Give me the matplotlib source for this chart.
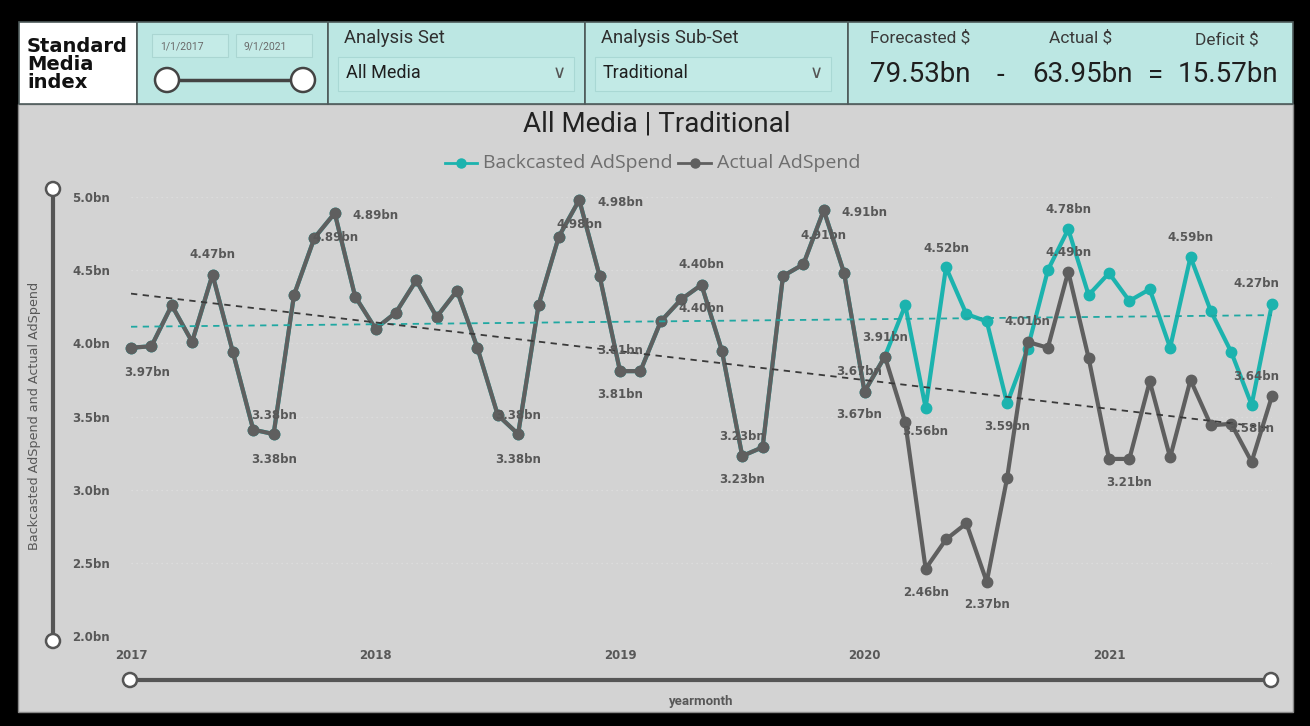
import numpy as np
import matplotlib
matplotlib.use("Agg")
from matplotlib import pyplot as plt
from matplotlib.patches import Rectangle, Circle

# monthly ad spend, Jan 2017 .. Sep 2021 (bn)
actual = [3.97, 3.98, 4.26, 4.01, 4.47, 3.94, 3.41, 3.38, 4.33, 4.72, 4.89, 4.32,
          4.10, 4.21, 4.43, 4.18, 4.36, 3.97, 3.51, 3.38, 4.26, 4.73, 4.98, 4.46,
          3.81, 3.81, 4.15, 4.30, 4.40, 3.95, 3.23, 3.29, 4.46, 4.54, 4.91, 4.48,
          3.67, 3.91, 3.46, 2.46, 2.66, 2.77, 2.37, 3.08, 4.01, 3.97, 4.49, 3.90,
          3.21, 3.21, 3.74, 3.22, 3.75, 3.44, 3.45, 3.19, 3.64]
backcasted = [3.97, 3.98, 4.26, 4.01, 4.47, 3.94, 3.41, 3.38, 4.33, 4.72, 4.89, 4.32,
              4.10, 4.21, 4.43, 4.18, 4.36, 3.97, 3.51, 3.38, 4.26, 4.73, 4.98, 4.46,
              3.81, 3.81, 4.15, 4.30, 4.40, 3.95, 3.23, 3.29, 4.46, 4.54, 4.91, 4.48,
              3.67, 3.91, 4.26, 3.56, 4.52, 4.20, 4.15, 3.59, 3.96, 4.50, 4.78, 4.33,
              4.48, 4.29, 4.37, 3.97, 4.59, 4.22, 3.94, 3.58, 4.27]
years = ["2017", "2018", "2019", "2020", "2021"]
yticks = [2.0, 2.5, 3.0, 3.5, 4.0, 4.5, 5.0]

# data labels: series, month index, offset in px (dx right, dy down)
labels_actual = [(0, 16, 25), (4, 0, -20), (7, 0, -19), (7, 0, 25), (10, 41, 2), (10, 1, 24),
                 (19, 0, -19), (19, 0, 25), (22, 41, 3), (22, 0, 25), (24, 0, -21), (24, 0, 23),
                 (28, 0, -20), (28, 0, 24), (30, 0, -20), (30, 0, 23), (34, 41, 2), (34, 0, 25),
                 (36, -5, -20), (36, -5, 23), (37, 0, -19), (39, 0, 24), (42, 0, 23),
                 (44, 0, -20), (46, 0, -19), (49, 0, 24), (56, -16, -20)]
labels_back = [(39, 0, 24), (40, 0, -19), (43, 0, 23), (46, 0, -20), (52, 0, -19),
               (55, 0, 24), (56, -16, -20)]

kpi_names = ["Forecasted $", "Actual $", "Deficit $"]
kpi_values = ["79.53bn", "63.95bn", "15.57bn"]

TEAL = "#1cb3ae"
GREY = "#5f5f5f"
TXT = "#585858"
HEAD = "#bce7e3"
PANEL = "#d3d3d3"

W, H = 1310, 726
fig = plt.figure(figsize=(W / 100, H / 100), dpi=100)
fig.patch.set_facecolor("black")

bg = fig.add_axes([0, 0, 1, 1])
bg.set_xlim(0, W)
bg.set_ylim(H, 0)
bg.axis("off")
bg.set_zorder(0)

# panels
bg.add_patch(Rectangle((18, 104), 1275, 608, fc=PANEL, ec="#8a8a8a", lw=1))
bg.add_patch(Rectangle((19, 22), 118, 82, fc="white", ec="#4d5a5a", lw=1.2))
for x0, x1 in [(137, 328), (328, 585), (585, 848), (848, 1293)]:
    bg.add_patch(Rectangle((x0, 22), x1 - x0, 82, fc=HEAD, ec="#4d5a5a", lw=1.2))

# logo
for i, word in enumerate(["Standard", "Media", "index"]):
    bg.text(27, 46 + i * 18.5, word, family="DejaVu Sans", weight="bold", size=14,
            color="#111111", va="center", ha="left")

# date slicer
for x0, t in [(152, "1/1/2017"), (236, "9/1/2021")]:
    bg.add_patch(Rectangle((x0, 34), 76, 23, fc="#c4ebe7", ec="#aad6d2", lw=0.8))
    bg.text(x0 + 8, 46, t, family="Roboto", size=7.5, color="#6a6a6a", va="center")
bg.plot([167, 303], [80, 80], color="#444444", lw=2.5, solid_capstyle="butt")
for cx in (167, 303):
    bg.add_patch(Circle((cx, 80), 12, fc="white", ec="#444444", lw=1.8, zorder=3))

# dropdowns
for x0, head, val in [(338, "Analysis Set", "All Media"), (595, "Analysis Sub-Set", "Traditional")]:
    bg.text(x0 + 6, 38, head, family="Roboto", size=13.3, color="#2f2f2f", va="center")
    bg.add_patch(Rectangle((x0, 57), 236, 34, fc="#c2eae6", ec="#a9d8d4", lw=0.8))
    bg.text(x0 + 8, 73, val, family="Roboto", size=13, color="#1f1f1f", va="center")
    bg.text(x0 + 221, 73, "\u2228", family="DejaVu Sans", size=13, color="#555555",
            va="center", ha="center")

# KPI card
for x, name in zip([920, 1081, 1227], kpi_names):
    bg.text(x, 38 if name != "Deficit $" else 40, name, family="Roboto", size=12.5,
            color="#3a3a3a", va="center", ha="center")
for x, val in zip([920, 1083, 1228], kpi_values):
    bg.text(x, 75, val, family="Roboto", size=20, color="#1f1f1f", va="center", ha="center")
bg.text(1000, 75, "-", family="Roboto", size=20, color="#1f1f1f", va="center", ha="center")
bg.text(1156, 75, "=", family="Roboto", size=20, color="#1f1f1f", va="center", ha="center")

# title and legend
bg.text(657, 124, "All Media | Traditional", family="Roboto", size=20, color="#222222",
        va="center", ha="center")
for x0, x1, c, t in [(445, 477, TEAL, "Backcasted AdSpend"), (678, 711, GREY, "Actual AdSpend")]:
    bg.plot([x0, x1], [163, 163], color=c, lw=2)
    bg.plot([(x0 + x1) / 2], [163], "o", color=c, ms=6.5)
    bg.text(x1 + 6, 163, t, family="Open Sans", size=14, color="#6e6e6e", va="center")

# range sliders around the plot
bg.plot([53, 53], [189, 641], color="#555555", lw=3)
bg.plot([130, 1271], [680, 680], color="#555555", lw=3)
for cx, cy in [(53, 189), (53, 641), (130, 680), (1271, 680)]:
    bg.add_patch(Circle((cx, cy), 7, fc="white", ec="#555555", lw=1.8, zorder=3))
bg.text(35, 416, "Backcasted AdSpend and Actual AdSpend", rotation=90, family="DejaVu Sans",
        size=9.2, color=TXT, va="center", ha="center")
bg.text(701, 702, "yearmonth", family="Roboto", weight="bold", size=9.5, color=TXT,
        va="center", ha="center")

# line chart
ax = fig.add_axes([131 / W, 90 / H, 1141 / W, 439 / H])
ax.set_zorder(2)
ax.patch.set_alpha(0)
months = np.arange(len(actual))
ax.set_xlim(0, len(actual) - 1)
ax.set_ylim(2.0, 5.0)

for y in yticks:
    ax.axhline(y, color="#e0e0e0", lw=0.9, ls=(0, (1, 3)), zorder=0)

ax.plot(months, backcasted, color=TEAL, lw=3, marker="o", ms=7.5, zorder=2, clip_on=False)
ax.plot(months, actual, color=GREY, lw=3, marker="o", ms=7.5, zorder=3, clip_on=False)

# linear trend lines
for series, c in [(backcasted, "#20a8a2"), (actual, "#3a3a3a")]:
    k, b = np.polyfit(months, series, 1)
    ax.plot(months[[0, -1]], k * months[[0, -1]] + b, color=c, lw=1.3, ls=(0, (3.5, 3)), zorder=4)

for series, lab in [(actual, labels_actual), (backcasted, labels_back)]:
    for i, dx, dy in lab:
        ax.annotate(f"{series[i]:.2f}bn", (i, series[i]), xytext=(dx, -dy),
                    textcoords="offset pixels", ha="center", va="center", size=8.5,
                    weight="bold", color=TXT, zorder=5, annotation_clip=False)

ax.set_yticks(yticks)
ax.set_yticklabels([f"{v:.1f}bn" for v in yticks])
ax.set_xticks(np.arange(0, len(actual), 12))
ax.set_xticklabels(years)
ax.tick_params(axis="y", length=0, pad=15, labelsize=8.5, labelcolor=TXT)
ax.tick_params(axis="x", length=0, pad=9.5, labelsize=8.5, labelcolor=TXT)
for t in ax.get_xticklabels() + ax.get_yticklabels():
    t.set_fontweight("bold")
for s in ax.spines.values():
    s.set_visible(False)

fig.savefig("out.png", dpi=100, facecolor=fig.get_facecolor())
